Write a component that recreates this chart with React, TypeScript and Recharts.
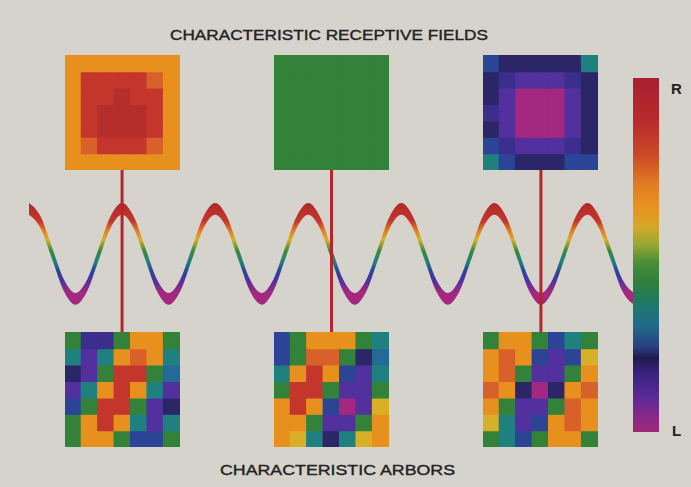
import {
  Area,
  Bar,
  BarChart,
  Cell,
  ComposedChart,
  ReferenceLine,
  XAxis,
  YAxis
} from "recharts";

// colour levels, 0 = L (magenta) ... 14 = R (dark red)
const COLORMAP = [
  "#a3287f", "#7a2a94", "#52309e", "#3c2e8c", "#2a2668",
  "#2c4496", "#246a96", "#1f8080", "#33823a", "#9aa836",
  "#d8b028", "#e8901e", "#d8602a", "#c4362c", "#b62e2c"
];

const COLORBAR_STOPS: [number, string][] = [
  [0, "#a82030"], [0.12, "#b82a2c"], [0.22, "#cc4a26"], [0.3, "#e07c22"],
  [0.36, "#e89020"], [0.42, "#d4a828"], [0.47, "#98a832"], [0.52, "#4a8e38"],
  [0.58, "#2e7e3c"], [0.64, "#1e7a6a"], [0.7, "#206a8a"], [0.76, "#2a3e80"],
  [0.79, "#201a50"], [0.84, "#3a2480"], [0.9, "#5a2a96"], [0.96, "#8a2888"],
  [1, "#a02878"]
];

const WAVE_STOPS: [number, string][] = [
  [0, "#b02a2c"], [0.18, "#c4362c"], [0.27, "#e07c22"], [0.36, "#d8b028"],
  [0.47, "#3a8a3a"], [0.58, "#1f8080"], [0.67, "#2c4496"], [0.77, "#52309e"],
  [0.88, "#a3287f"], [1, "#a3287f"]
];

// receptive fields (top row)
const RF_RIGHT = [
  [11, 11, 11, 11, 11, 11, 11],
  [11, 13, 13, 13, 13, 12, 11],
  [11, 13, 13, 14, 13, 13, 11],
  [11, 13, 14, 14, 14, 13, 11],
  [11, 13, 14, 14, 14, 13, 11],
  [11, 12, 13, 13, 13, 12, 11],
  [11, 11, 11, 11, 11, 11, 11]
];
const RF_BINOC = [
  [8, 8, 8, 8, 8, 8, 8],
  [8, 8, 8, 8, 8, 8, 8],
  [8, 8, 8, 8, 8, 8, 8],
  [8, 8, 8, 8, 8, 8, 8],
  [8, 8, 8, 8, 8, 8, 8],
  [8, 8, 8, 8, 8, 8, 8],
  [8, 8, 8, 8, 8, 8, 8]
];
const RF_LEFT = [
  [5, 4, 4, 4, 4, 4, 7],
  [4, 3, 2, 2, 2, 3, 4],
  [4, 2, 0, 0, 0, 2, 4],
  [3, 2, 0, 0, 0, 2, 4],
  [4, 2, 0, 0, 0, 2, 4],
  [5, 3, 2, 2, 2, 3, 4],
  [7, 5, 4, 4, 4, 5, 5]
];

// arbors (bottom row)
const ARBOR_1 = [
  [8, 3, 3, 8, 11, 11, 8],
  [7, 2, 7, 11, 12, 11, 7],
  [4, 2, 8, 13, 13, 8, 6],
  [2, 7, 11, 13, 11, 7, 2],
  [5, 8, 13, 13, 8, 2, 4],
  [8, 11, 13, 11, 7, 2, 7],
  [8, 11, 11, 8, 5, 5, 8]
];
const ARBOR_2 = [
  [5, 8, 11, 11, 11, 8, 7],
  [5, 8, 12, 12, 8, 4, 6],
  [7, 11, 13, 11, 5, 2, 7],
  [8, 13, 13, 8, 2, 2, 8],
  [11, 13, 11, 5, 0, 2, 10],
  [11, 11, 8, 2, 2, 8, 11],
  [11, 10, 7, 4, 7, 10, 11]
];
const ARBOR_3 = [
  [8, 11, 11, 8, 5, 7, 8],
  [11, 12, 11, 5, 2, 5, 10],
  [11, 12, 8, 2, 2, 8, 11],
  [12, 11, 4, 0, 4, 11, 12],
  [11, 8, 2, 2, 8, 12, 11],
  [10, 7, 2, 5, 11, 12, 11],
  [8, 7, 5, 8, 11, 11, 8]
];

// ocular dominance across cortex (position in periods, +1 = R, -1 = L)
const WAVE_POS = [
  0, 0.125, 0.25, 0.375, 0.5, 0.625, 0.75, 0.875,
  1, 1.125, 1.25, 1.375, 1.5, 1.625, 1.75, 1.875,
  2, 2.125, 2.25, 2.375, 2.5, 2.625, 2.75, 2.875,
  3, 3.125, 3.25, 3.375, 3.5, 3.625, 3.75, 3.875,
  4, 4.125, 4.25, 4.375, 4.5, 4.625, 4.75, 4.875,
  5, 5.125, 5.25, 5.375, 5.5, 5.625, 5.75, 5.875,
  6, 6.125, 6.25, 6.375, 6.5
];
const WAVE_OD = [
  1, 0.7, 0, -0.7, -1, -0.7, 0, 0.7,
  1, 0.7, 0, -0.7, -1, -0.7, 0, 0.7,
  1, 0.7, 0, -0.7, -1, -0.7, 0, 0.7,
  1, 0.7, 0, -0.7, -1, -0.7, 0, 0.7,
  1, 0.7, 0, -0.7, -1, -0.7, 0, 0.7,
  1, 0.7, 0, -0.7, -1, -0.7, 0, 0.7,
  1, 0.7, 0, -0.7, -1
];
const BAND = 0.26;

// cortical positions of the three examples
const SAMPLE_POS = [1, 3.25, 5.5];
const TOP_FIELDS = [RF_RIGHT, RF_BINOC, RF_LEFT];
const BOTTOM_ARBORS = [ARBOR_1, ARBOR_2, ARBOR_3];
const SQUARE_LEFT = [65, 274, 483];

const LINK_RED = "#b3262c";
const INK = "#222222";
const FONT = "'Liberation Sans', Arial, sans-serif";

type HeatmapProps = {
  grid: number[][];
  left: number;
  top: number;
  size: number;
};

function Heatmap({ grid, left, top, size }: HeatmapProps) {
  const data = grid[0].map((_, c) => {
    const row: Record<string, number> = { col: c };
    grid.forEach((_, r) => {
      row[`r${r}`] = 1;
    });
    return row;
  });
  // bottom row is stacked first
  const order = grid.map((_, r) => grid.length - 1 - r);
  return (
    <div style={{ position: "absolute", left, top }}>
      <BarChart
        width={size}
        height={size}
        data={data}
        margin={{ top: 0, right: 0, bottom: 0, left: 0 }}
        barCategoryGap={0}
        barGap={0}
      >
        <XAxis dataKey="col" hide />
        <YAxis hide domain={[0, grid.length]} />
        {order.map((r) => (
          <Bar key={r} dataKey={`r${r}`} stackId="g" isAnimationActive={false}>
            {data.map((_, c) => (
              <Cell
                key={c}
                fill={COLORMAP[grid[r][c]]}
                stroke={COLORMAP[grid[r][c]]}
                strokeWidth={1.4}
              />
            ))}
          </Bar>
        ))}
      </BarChart>
    </div>
  );
}

function ColorBar() {
  return (
    <div style={{ position: "absolute", left: 633, top: 78 }}>
      <BarChart
        width={26}
        height={354}
        data={[{ k: "od", v: 1 }]}
        margin={{ top: 0, right: 0, bottom: 0, left: 0 }}
        barCategoryGap={0}
      >
        <defs>
          <linearGradient id="cbarGrad" x1="0" y1="0" x2="0" y2="1">
            {COLORBAR_STOPS.map(([o, c]) => (
              <stop key={o} offset={o} stopColor={c} />
            ))}
          </linearGradient>
        </defs>
        <XAxis dataKey="k" hide />
        <YAxis hide domain={[0, 1]} />
        <Bar dataKey="v" fill="url(#cbarGrad)" isAnimationActive={false} />
      </BarChart>
    </div>
  );
}

function Wave() {
  const data = WAVE_POS.map((p, i) => ({
    pos: p,
    band: [WAVE_OD[i] - BAND, WAVE_OD[i]]
  }));
  return (
    <div style={{ position: "absolute", left: 29, top: 170 }}>
      <ComposedChart
        width={605}
        height={162}
        data={data}
        margin={{ top: 0, right: 0, bottom: 0, left: 0 }}
      >
        <defs>
          <linearGradient id="waveGrad" x1="0" y1="0" x2="0" y2="1">
            {WAVE_STOPS.map(([o, c]) => (
              <stop key={o} offset={o} stopColor={c} />
            ))}
          </linearGradient>
        </defs>
        <XAxis dataKey="pos" type="number" domain={[0, 6.5]} hide />
        <YAxis hide domain={[-1.867, 1.733]} allowDataOverflow />
        <Area
          type="monotone"
          dataKey="band"
          stroke="none"
          fill="url(#waveGrad)"
          fillOpacity={1}
          isAnimationActive={false}
        />
        {SAMPLE_POS.map((p) => (
          <ReferenceLine key={p} x={p} stroke={LINK_RED} strokeWidth={3} />
        ))}
      </ComposedChart>
    </div>
  );
}

export default function App() {
  return (
    <div
      style={{
        position: "absolute",
        left: 0,
        top: 0,
        width: 691,
        height: 487,
        background: "#d6d3cc",
        overflow: "hidden"
      }}
    >
      <Wave />
      {TOP_FIELDS.map((g, i) => (
        <Heatmap key={`rf${i}`} grid={g} left={SQUARE_LEFT[i]} top={55} size={115} />
      ))}
      {BOTTOM_ARBORS.map((g, i) => (
        <Heatmap key={`ar${i}`} grid={g} left={SQUARE_LEFT[i]} top={332} size={115} />
      ))}
      <ColorBar />
      <svg
        width={691}
        height={487}
        style={{ position: "absolute", left: 0, top: 0, pointerEvents: "none" }}
      >
        <text
          x={170}
          y={40}
          fontFamily={FONT}
          fontSize={14}
          fill={INK}
          stroke={INK}
          strokeWidth={0.35}
          textLength={318}
          lengthAdjust="spacingAndGlyphs"
        >
          CHARACTERISTIC RECEPTIVE FIELDS
        </text>
        <text
          x={220}
          y={475}
          fontFamily={FONT}
          fontSize={14}
          fill={INK}
          stroke={INK}
          strokeWidth={0.35}
          textLength={235}
          lengthAdjust="spacingAndGlyphs"
        >
          CHARACTERISTIC ARBORS
        </text>
        <text x={671} y={94} fontFamily={FONT} fontSize={15} fontWeight={600} fill={INK}>
          R
        </text>
        <text x={672} y={436} fontFamily={FONT} fontSize={15} fontWeight={600} fill={INK}>
          L
        </text>
      </svg>
    </div>
  );
}
